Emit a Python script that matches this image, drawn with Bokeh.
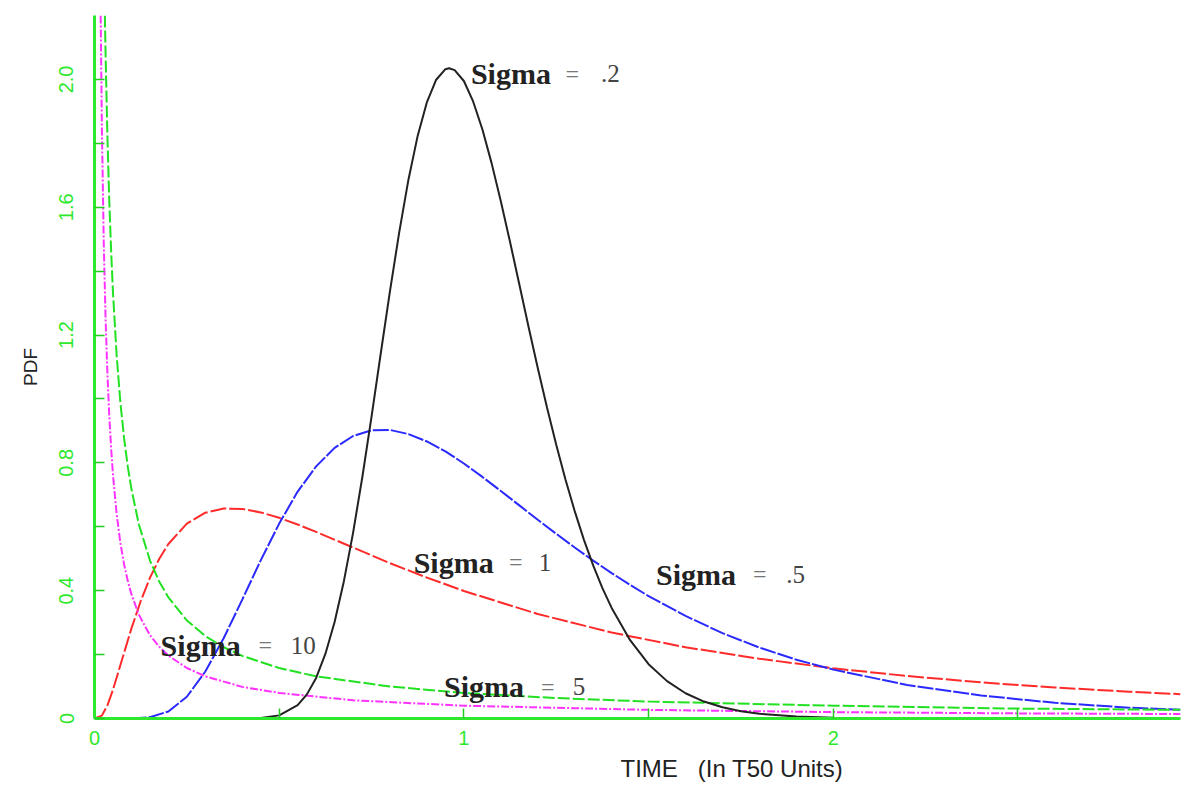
from bokeh.plotting import figure
from bokeh.models import Range1d, FixedTicker, Title, ColumnDataSource
from bokeh.core.properties import value
from bokeh.embed import file_html
from bokeh.resources import INLINE

# ---- data (TIME in T50 units, PDF) ----
s02_t = [0.0, 0.3, 0.4, 0.45, 0.5, 0.55, 0.575, 0.6, 0.625, 0.65, 0.675, 0.7, 0.725, 0.75, 0.775, 0.8, 0.825,
         0.85, 0.875, 0.9, 0.925, 0.95, 0.96, 0.975, 1.0, 1.025, 1.05, 1.075, 1.1, 1.125, 1.15, 1.175, 1.2,
         1.225, 1.25, 1.275, 1.3, 1.325, 1.35, 1.375, 1.4, 1.45, 1.5, 1.55, 1.6, 1.65, 1.7, 1.75, 1.8, 1.9,
         2.0, 2.2, 2.5, 2.94]
s02_p = [0.0, 0.0, 0.0001, 0.0015, 0.0098, 0.0416, 0.0755, 0.127, 0.202, 0.302, 0.429, 0.581, 0.755, 0.945, 1.143, 1.338, 1.522,
         1.687, 1.824, 1.929, 1.999, 2.032, 2.035, 2.029, 1.995, 1.931, 1.844, 1.738, 1.619, 1.491, 1.359, 1.226, 1.097,
         0.973, 0.857, 0.748, 0.649, 0.559, 0.479, 0.408, 0.346, 0.245, 0.170, 0.117, 0.079, 0.053, 0.035, 0.023, 0.0148, 0.0061,
         0.0025, 0.0004, 0.0, 0.0]

s05_t = [0.0, 0.1, 0.15, 0.2, 0.25, 0.3, 0.35, 0.4, 0.45, 0.5, 0.55, 0.6, 0.65, 0.7, 0.75, 0.8, 0.85, 0.9, 0.95, 1.0,
         1.05, 1.1, 1.15, 1.2, 1.25, 1.3, 1.35, 1.4, 1.45, 1.5, 1.6, 1.7, 1.8, 1.9, 2.0, 2.2, 2.4, 2.6, 2.8, 2.94]
s05_p = [0.0, 0.0002, 0.004, 0.022, 0.068, 0.147, 0.252, 0.372, 0.495, 0.610, 0.710, 0.789, 0.847, 0.884, 0.902, 0.903, 0.890, 0.867, 0.836, 0.798,
         0.756, 0.712, 0.667, 0.622, 0.578, 0.535, 0.494, 0.455, 0.418, 0.383, 0.321, 0.267, 0.222, 0.184, 0.153, 0.105, 0.072, 0.049, 0.034, 0.027]

s1_t = [0.0, 0.02, 0.035, 0.05, 0.075, 0.1, 0.125, 0.15, 0.175, 0.2, 0.25, 0.3, 0.35, 0.4, 0.45, 0.5, 0.55, 0.6, 0.7, 0.8, 0.9, 1.0,
        1.2, 1.4, 1.6, 1.8, 2.0, 2.2, 2.4, 2.6, 2.8, 2.94]
s1_p = [0.0, 0.009, 0.041, 0.090, 0.186, 0.282, 0.367, 0.440, 0.499, 0.546, 0.610, 0.644, 0.657, 0.656, 0.645, 0.628, 0.607, 0.584, 0.535, 0.486, 0.441, 0.399,
        0.327, 0.269, 0.223, 0.187, 0.157, 0.133, 0.113, 0.097, 0.084, 0.076]

s5_t = [0.028, 0.03, 0.035, 0.04, 0.045, 0.05, 0.06, 0.07, 0.08, 0.09, 0.1, 0.12, 0.15, 0.175, 0.2, 0.25, 0.3, 0.35, 0.4, 0.5, 0.6, 0.8,
        1.0, 1.25, 1.5, 2.0, 2.5, 2.94]
s5_p = [2.20, 2.08, 1.82, 1.62, 1.463, 1.334, 1.135, 0.990, 0.878, 0.789, 0.718, 0.608, 0.495, 0.429, 0.379, 0.307, 0.258, 0.223, 0.196, 0.158, 0.132, 0.100,
        0.080, 0.064, 0.053, 0.040, 0.031, 0.027]

s10_t = [0.0167, 0.02, 0.025, 0.03, 0.035, 0.04, 0.045, 0.05, 0.06, 0.07, 0.08, 0.09, 0.1, 0.12, 0.15, 0.175, 0.2, 0.25, 0.3, 0.4, 0.5, 0.7,
         1.0, 1.5, 2.0, 2.5, 2.94]
s10_p = [2.20, 1.848, 1.491, 1.251, 1.078, 0.947, 0.845, 0.763, 0.639, 0.550, 0.483, 0.431, 0.389, 0.325, 0.261, 0.225, 0.197, 0.158, 0.132, 0.099, 0.080, 0.057,
         0.040, 0.027, 0.020, 0.016, 0.014]

x_ticks = [0, 1, 2]
x_minor = [0.5, 1.5, 2.5]
y_ticks = [0, 0.4, 0.8, 1.2, 1.6, 2.0]
y_minor = [0.2, 0.6, 1.0, 1.4, 1.8]

label_names = ["Sigma", "Sigma", "Sigma", "Sigma", "Sigma"]
label_values = [".2", "1", ".5", "10", "5"]

GREEN = "#2ee82e"

p = figure(width=1182, height=789, output_backend="svg", toolbar_location=None,
           x_range=Range1d(0, 2.94), y_range=Range1d(0, 2.2),
           min_border_left=94, min_border_right=2, min_border_top=15, min_border_bottom=71)
p.outline_line_color = None
p.grid.visible = False
p.background_fill_color = "white"

# curves
p.line(s1_t, s1_p, line_color="#ff2a2a", line_width=2, line_dash="16 3")
p.line(s05_t, s05_p, line_color="#2a2aff", line_width=2, line_dash="16 2")
p.line(s5_t, s5_p, line_color="#22e022", line_width=2, line_dash="12 3")
p.line(s10_t, s10_p, line_color="#ff33ff", line_width=2, line_dash="8 2 2 2")
p.line(s02_t, s02_p, line_color="#222222", line_width=2)

# axes
for ax in (p.xaxis[0], p.yaxis[0]):
    ax.axis_line_color = GREEN
    ax.axis_line_width = 3
    ax.major_tick_line_color = "#22cc22"
    ax.minor_tick_line_color = "#22cc22"
    ax.major_tick_line_width = 1.5
    ax.minor_tick_line_width = 1.5
    ax.major_tick_in = 10
    ax.major_tick_out = 0
    ax.minor_tick_in = 10
    ax.minor_tick_out = 0
    ax.major_label_text_color = GREEN
    ax.major_label_text_font = "Liberation Sans"
    ax.major_label_text_font_size = "20px"

p.xaxis.ticker = FixedTicker(ticks=x_ticks, minor_ticks=x_minor)
p.yaxis.ticker = FixedTicker(ticks=y_ticks, minor_ticks=y_minor)
p.yaxis.major_label_overrides = {0: "0", 0.4: "0.4", 0.8: "0.8", 1.2: "1.2", 1.6: "1.6", 2: "2.0"}
p.xaxis.major_label_overrides = {0: "0", 1: "1", 2: "2"}
p.yaxis.major_label_orientation = "vertical"
p.xaxis.major_label_standoff = 12
p.yaxis.major_label_standoff = 21

p.yaxis.axis_label = "PDF"
p.yaxis.axis_label_text_font = "Liberation Sans"
p.yaxis.axis_label_text_font_style = "normal"
p.yaxis.axis_label_text_font_size = "19px"
p.yaxis.axis_label_text_color = "#222222"
p.yaxis.axis_label_standoff = 16

xtitle = Title(text="TIME\u00a0\u00a0\u00a0(In T50 Units)", align="left", offset=526,
               text_font="Liberation Sans", text_font_size="24px", text_font_style="normal",
               text_color="#222222", standoff=10)
p.add_layout(xtitle, "below")

# curve labels
ys = [2.017, 0.489, 0.452, 0.229, 0.100]
name_src = ColumnDataSource(dict(x=[1.019, 0.864, 1.520, 0.179, 0.946], y=ys, t=label_names))
eq_src = ColumnDataSource(dict(x=[1.275, 1.122, 1.783, 0.444, 1.209], y=ys, t=["="] * 5))
val_src = ColumnDataSource(dict(x=[1.371, 1.203, 1.873, 0.531, 1.295], y=ys, t=label_values))
p.text(x="x", y="y", text="t", source=name_src, text_font=value("Liberation Serif"),
       text_font_style="bold", text_font_size="30px", text_color="#222222",
       text_baseline="middle", text_align="left")
p.text(x="x", y="y", text="t", source=eq_src, text_font=value("Liberation Serif"),
       text_font_size="24px", text_color="#777777",
       text_baseline="middle", text_align="left")
p.text(x="x", y="y", text="t", source=val_src, text_font=value("Liberation Serif"),
       text_font_size="25px", text_color="#444444",
       text_baseline="middle", text_align="left")

open("out.html", "w").write(file_html(p, INLINE))
